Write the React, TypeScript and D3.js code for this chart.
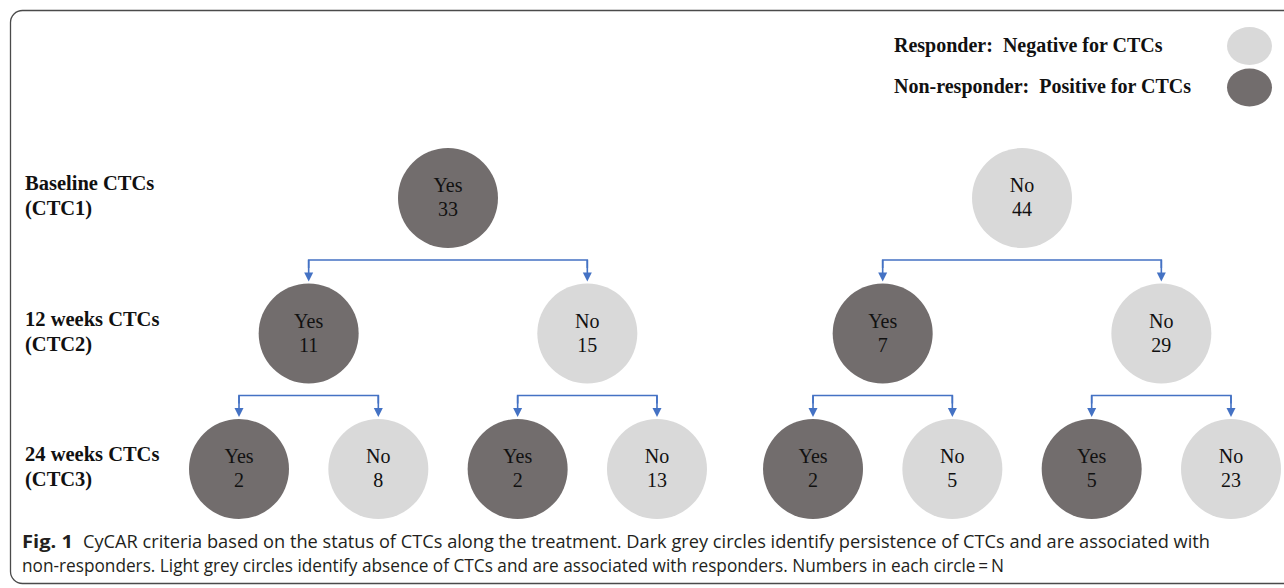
import React, { useMemo } from "react";
import * as d3 from "d3";

// tree of CTC status, one entry per node
const nodeIds = ["all", "A", "B", "A1", "A2", "B1", "B2", "A1a", "A1b", "A2a", "A2b", "B1a", "B1b", "B2a", "B2b"];
const nodeParents = ["", "all", "all", "A", "A", "B", "B", "A1", "A1", "A2", "A2", "B1", "B1", "B2", "B2"];
const nodeAnswers = ["", "Yes", "No", "Yes", "No", "Yes", "No", "Yes", "No", "Yes", "No", "Yes", "No", "Yes", "No"];
const nodeCounts = [77, 33, 44, 11, 15, 7, 29, 2, 8, 2, 13, 2, 5, 5, 23];

const rowTitles = ["Baseline CTCs", "12 weeks CTCs", "24 weeks CTCs"];
const rowCodes = ["(CTC1)", "(CTC2)", "(CTC3)"];

const legendLabels = ["Responder:  Negative for CTCs", "Non-responder:  Positive for CTCs"];
const legendAnswers = ["No", "Yes"];

const captionBold = "Fig. 1";
const captionLines = [
  "CyCAR criteria based on the status of CTCs along the treatment. Dark grey circles identify persistence of CTCs and are associated with",
  "non-responders. Light grey circles identify absence of CTCs and are associated with responders. Numbers in each circle\u2009=\u2009N",
];

const W = 1284;
const H = 588;
const R = 50;
const dark = "#726d6d";
const light = "#d9d9d9";
const blue = "#4472c4";
const serif = "'Liberation Serif', 'Times New Roman', serif";
const sans = "'Liberation Sans Narrow', 'Open Sans', Roboto, sans-serif";

export default function App() {
  const { nodes, links, x, y } = useMemo(() => {
    const rows = nodeIds.map((id, i) => ({ id, parent: nodeParents[i], answer: nodeAnswers[i], n: nodeCounts[i] }));
    const root = d3
      .stratify<any>()
      .id((d) => d.id)
      .parentId((d) => (d.parent === "" ? null : d.parent))(rows);
    d3.tree<any>()
      .nodeSize([1, 1])
      .separation((a, b) =>
        a.parent === b.parent || (a.parent && b.parent && a.parent.parent === b.parent.parent) ? 1 : 1.12
      )(root);
    const leaves = root.leaves();
    const x = d3
      .scaleLinear()
      .domain(d3.extent(leaves, (d: any) => d.x) as [number, number])
      .range([239, 1231]);
    const y = d3.scaleLinear().domain([1, 3]).range([198, 469]);
    const nodes = root.descendants().filter((d) => d.depth > 0);
    const links = nodes.filter((d) => d.children);
    return { nodes, links, x, y };
  }, []);

  return (
    <svg width={W} height={H} style={{ position: "absolute", left: 0, top: 0, background: "#fff" }}>
      <rect x={10.5} y={10.5} width={1320} height={573} rx={12} fill="none" stroke="#4a4a4a" strokeWidth={1.3} />

      {/* legend */}
      {legendLabels.map((t, i) => (
        <g key={t}>
          <text x={894} y={52 + i * 41} fontFamily={serif} fontWeight="bold" fontSize={20} fill="#111" xmlSpace="preserve">
            {t}
          </text>
          <ellipse cx={1249.5} cy={46 + i * 41.5} rx={22.5} ry={19} fill={legendAnswers[i] === "Yes" ? dark : light} />
        </g>
      ))}

      {/* row labels */}
      {rowTitles.map((t, i) => (
        <g key={t} fontFamily={serif} fontWeight="bold" fontSize={20.5} fill="#111">
          <text x={25} y={y(i + 1) - 8}>{t}</text>
          <text x={25} y={y(i + 1) + 17}>{rowCodes[i]}</text>
        </g>
      ))}

      {/* connectors */}
      {links.map((p: any) => {
        const barY = y(p.depth) + 62;
        const kids = p.children;
        const x0 = x(kids[0].x);
        const x1 = x(kids[kids.length - 1].x);
        return (
          <g key={"l" + p.id} stroke={blue} fill="none" strokeWidth={1.6}>
            <path d={`M${x0},${barY + 8}V${barY}H${x1}V${barY + 8}`} />
            {kids.map((c: any) => {
              const cx = x(c.x);
              const tip = y(c.depth) - R - 2;
              return (
                <g key={c.id}>
                  <line x1={cx} x2={cx} y1={barY} y2={tip - 8} />
                  <path d={`M${cx - 4.5},${tip - 9}L${cx + 4.5},${tip - 9}L${cx},${tip}Z`} fill={blue} stroke="none" />
                </g>
              );
            })}
          </g>
        );
      })}

      {/* nodes */}
      {nodes.map((d: any) => {
        const cx = x(d.x);
        const cy = y(d.depth);
        return (
          <g key={d.id} fontFamily={serif} fontSize={20} fill="#111" textAnchor="middle">
            <circle cx={cx} cy={cy} r={R} fill={d.data.answer === "Yes" ? dark : light} />
            <text x={cx} y={cy - 6}>{d.data.answer}</text>
            <text x={cx} y={cy + 18}>{d.data.n}</text>
          </g>
        );
      })}

      {/* caption */}
      <g fontFamily={sans} fontSize={18} fill="#231f20">
        <text x={22} y={548} fontWeight="bold" textLength={51} lengthAdjust="spacingAndGlyphs">
          {captionBold}
        </text>
        <text x={83} y={548} textLength={1127} lengthAdjust="spacingAndGlyphs">
          {captionLines[0]}
        </text>
        <text x={22} y={572} textLength={982} lengthAdjust="spacingAndGlyphs">
          {captionLines[1]}
        </text>
      </g>
    </svg>
  );
}
